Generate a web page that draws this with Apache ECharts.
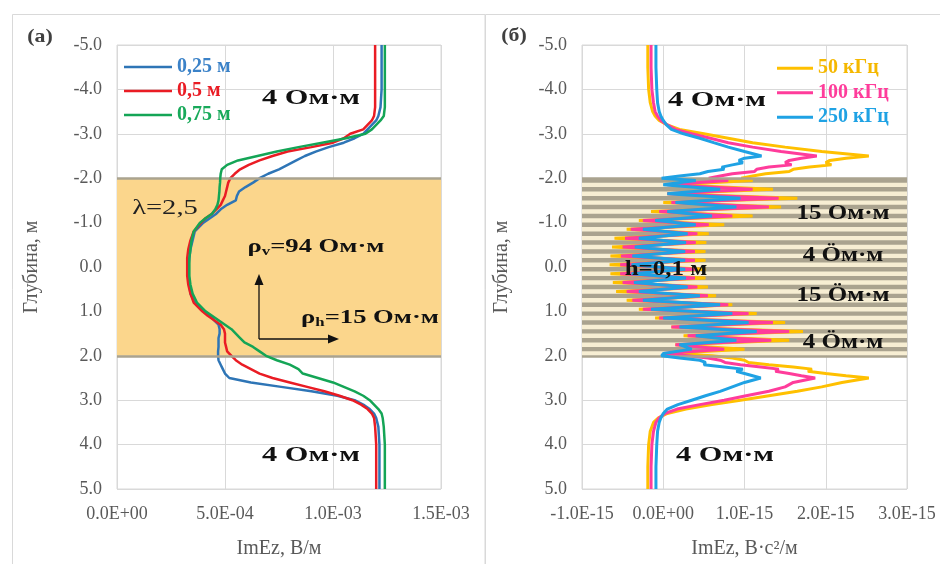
<!DOCTYPE html>
<html>
<head>
<meta charset="utf-8">
<script src="https://cdn.jsdelivr.net/npm/echarts@6/dist/echarts.min.js"></script>
<style>
  html, body { margin: 0; padding: 0; background: #ffffff; }
  #chart { width: 940px; height: 564px; }
</style>
</head>
<body>
<div id="chart"></div>
<script>
// ---------- tick labels ----------
const depthTicks = ['-5.0', '-4.0', '-3.0', '-2.0', '-1.0', '0.0', '1.0', '2.0', '3.0', '4.0', '5.0'];
const leftXTicks = ['0.0E+00', '5.0E-04', '1.0E-03', '1.5E-03'];      // values stored in 1e-3 V/m
const rightXTicks = ['-1.0E-15', '0.0E+00', '1.0E-15', '2.0E-15', '3.0E-15']; // values stored in 1e-15 V·s²/m

// ---------- panel (а): three probe spacings, ImEz in 1e-3 V/m ----------
const leftNames = ['0,25 м', '0,5 м', '0,75 м'];
const leftDepth = [-5.0, -4.0, -3.6, -3.4, -3.3, -3.2, -3.1, -3.0, -2.9, -2.8, -2.7, -2.6, -2.5, -2.4, -2.3, -2.2, -2.1,
  -2.0, -1.9, -1.8, -1.7, -1.6, -1.5, -1.4, -1.3, -1.2, -1.1, -1.0, -0.8, -0.6, -0.4, -0.2, 0.0, 0.2, 0.4, 0.6, 0.8,
  1.0, 1.1, 1.2, 1.3, 1.4, 1.5, 1.6, 1.7, 1.8, 1.9, 2.0, 2.1, 2.2, 2.3, 2.4, 2.5, 2.6, 2.7, 2.8, 2.9, 3.0, 3.1, 3.2,
  3.3, 3.4, 3.6, 4.0, 5.0];
const leftSpacing025 = [1.225, 1.225, 1.22, 1.21, 1.2, 1.18, 1.16, 1.14, 1.1, 1.05, 0.98, 0.92, 0.87, 0.83, 0.79, 0.75, 0.70,
  0.66, 0.63, 0.595, 0.565, 0.555, 0.55, 0.51, 0.48, 0.46, 0.43, 0.40, 0.36, 0.35, 0.34, 0.335, 0.33, 0.33, 0.335, 0.34, 0.36,
  0.40, 0.43, 0.45, 0.47, 0.475, 0.475, 0.47, 0.47, 0.47, 0.468, 0.468, 0.47, 0.48, 0.49, 0.50, 0.52, 0.62, 0.76, 0.90, 1.02, 1.10, 1.14, 1.17,
  1.19, 1.20, 1.21, 1.215, 1.215];
const leftSpacing05 = [1.195, 1.195, 1.195, 1.19, 1.18, 1.16, 1.14, 1.08, 1.05, 1.0, 0.90, 0.79, 0.72, 0.66, 0.61, 0.57, 0.545,
  0.525, 0.515, 0.51, 0.505, 0.50, 0.49, 0.48, 0.46, 0.44, 0.41, 0.39, 0.355, 0.34, 0.33, 0.325, 0.325, 0.325, 0.33, 0.34, 0.355,
  0.395, 0.42, 0.45, 0.48, 0.495, 0.50, 0.50, 0.50, 0.505, 0.51, 0.53, 0.55, 0.58, 0.62, 0.66, 0.72, 0.80, 0.88, 0.96, 1.03, 1.09, 1.13, 1.16,
  1.18, 1.19, 1.195, 1.20, 1.20];
const leftSpacing075 = [1.24, 1.24, 1.24, 1.235, 1.22, 1.20, 1.18, 1.15, 1.06, 0.95, 0.84, 0.74, 0.65, 0.56, 0.51, 0.485, 0.48,
  0.478, 0.477, 0.475, 0.474, 0.472, 0.47, 0.465, 0.455, 0.44, 0.41, 0.385, 0.355, 0.345, 0.34, 0.335, 0.335, 0.335, 0.34, 0.35, 0.37,
  0.41, 0.44, 0.47, 0.50, 0.53, 0.55, 0.57, 0.59, 0.63, 0.66, 0.69, 0.74, 0.80, 0.84, 0.86, 0.93, 1.00, 1.05, 1.10, 1.14, 1.17, 1.19, 1.21,
  1.225, 1.23, 1.235, 1.24, 1.24];

// ---------- panel (б): three frequencies, ImEz in 1e-15 V·s²/m ----------
const rightNames = ['50 кГц', '100 кГц', '250 кГц'];
const rightDepth = [-5.0, -4.5, -4.0, -3.7, -3.5, -3.4, -3.3, -3.2, -3.1, -3.0, -2.9, -2.8, -2.7, -2.6, -2.5, -2.45, -2.4,
  -2.35, -2.3, -2.25, -2.2, -2.15, -2.1, -2.05, -2.0,
  -1.95, -1.85, -1.75, -1.65, -1.55, -1.45, -1.35, -1.25, -1.15, -1.05, -0.95, -0.85, -0.75, -0.65, -0.55, -0.45, -0.35,
  -0.25, -0.15, -0.05, 0.05, 0.15, 0.25, 0.35, 0.45, 0.55, 0.65, 0.75, 0.85, 0.95, 1.05, 1.15, 1.25, 1.35, 1.45, 1.55,
  1.65, 1.75, 1.85, 1.95,
  2.0, 2.05, 2.1, 2.15, 2.2, 2.25, 2.3, 2.35, 2.4, 2.45, 2.5, 2.6, 2.7, 2.8, 2.9, 3.0, 3.1, 3.2, 3.3, 3.4, 3.5, 3.7, 4.0,
  4.5, 5.0];
const rightF50 = [-0.19, -0.19, -0.18, -0.16, -0.13, -0.10, -0.05, 0.05, 0.20, 0.50, 0.80, 1.10, 1.50, 1.95, 2.53, 2.25, 2.05,
  2.00, 2.07, 1.80, 1.60, 1.55, 1.26, 1.10, 0.96,
  1.10, 0.10, 1.35, 0.05, 1.65, 0.00, 1.45, -0.15, 1.10, -0.30, 0.75, -0.45, 0.56, -0.60, 0.53, -0.63, 0.52,
  -0.65, 0.52, -0.66, 0.52, -0.65, 0.52, -0.62, 0.55, -0.58, 0.65, -0.45, 0.85, -0.30, 1.15, -0.10, 1.50, 0.10, 1.72, 0.25,
  1.55, 0.15, 1.00, 0.05,
  0.60, 0.85, 1.00, 1.05, 1.30, 1.60, 1.83, 1.78, 2.00, 2.25, 2.53, 2.20, 1.95, 1.65, 1.30, 0.95, 0.60, 0.28, 0.05, -0.06, -0.12, -0.16, -0.18,
  -0.19, -0.19];
const rightF100 = [-0.15, -0.15, -0.14, -0.12, -0.10, -0.07, -0.03, 0.05, 0.15, 0.35, 0.58, 0.80, 1.10, 1.45, 1.89, 1.70, 1.55,
  1.50, 1.58, 1.30, 1.15, 1.12, 0.85, 0.70, 0.56,
  0.80, 0.05, 1.10, 0.05, 1.42, 0.10, 1.30, -0.05, 0.85, -0.25, 0.56, -0.40, 0.42, -0.47, 0.40, -0.50, 0.39,
  -0.52, 0.39, -0.53, 0.39, -0.53, 0.39, -0.50, 0.42, -0.45, 0.55, -0.38, 0.80, -0.25, 1.05, -0.05, 1.35, 0.10, 1.55, 0.30,
  1.33, 0.15, 0.75, 0.00,
  0.30, 0.55, 0.70, 0.76, 0.95, 1.20, 1.42, 1.38, 1.55, 1.70, 1.87, 1.60, 1.50, 1.30, 1.02, 0.75, 0.45, 0.17, 0.02, -0.05, -0.09, -0.12, -0.14,
  -0.15, -0.15];
const rightF250 = [-0.09, -0.09, -0.08, -0.07, -0.05, -0.03, 0.00, 0.04, 0.10, 0.25, 0.45, 0.62, 0.80, 1.00, 1.21, 1.00, 0.93,
  0.98, 0.85, 0.72, 0.75, 0.55, 0.45, 0.20, -0.02,
  0.40, 0.00, 0.70, 0.05, 0.95, 0.15, 0.90, 0.05, 0.60, -0.10, 0.40, -0.25, 0.30, -0.30, 0.28, -0.35, 0.27,
  -0.38, 0.27, -0.39, 0.27, -0.39, 0.28, -0.36, 0.30, -0.30, 0.45, -0.25, 0.70, -0.15, 0.85, 0.00, 1.05, 0.20, 1.15, 0.40,
  0.90, 0.20, 0.35, 0.00,
  -0.02, 0.20, 0.45, 0.52, 0.50, 0.75, 0.98, 0.90, 1.00, 1.10, 1.20, 1.00, 0.85, 0.70, 0.52, 0.35, 0.18, 0.05, 0.00, -0.03, -0.05, -0.07, -0.08,
  -0.09, -0.09];

// ---------- model geometry ----------
const anisoLayer = [-2.0, 2.0];               // anisotropic layer, panel (а)
const thinLayerTops = [-2.0, -1.8, -1.6, -1.4, -1.2, -1.0, -0.8, -0.6, -0.4, -0.2,
  0.0, 0.2, 0.4, 0.6, 0.8, 1.0, 1.2, 1.4, 1.6, 1.8]; // tops of the 0.1 m thin layers, panel (б)
const thinLayerH = 0.1;

// ---------- styling ----------
const SERIF = '"Liberation Serif", "Times New Roman", serif';
const AXIS_GREY = '#595959';
const GRID_GREY = '#d9d9d9';
const leftColors = ['#2e75b6', '#ea1c24', '#14a556'];
const leftTextColors = ['#3b82c8', '#ea1c24', '#18a95a'];
const rightColors = ['#ffc000', '#ff3c9b', '#1fa2e4'];
const rightTextColors = ['#f5b800', '#ff3c9b', '#1fa2e4'];

function pairs(xs, ys) { return xs.map((x, i) => [x, ys[i]]); }

function yAxisFor(gridIndex, nameGap) {
  return {
    type: 'value', gridIndex, min: -5, max: 5, interval: 1, inverse: true,
    name: 'Глубина, м', nameLocation: 'middle', nameGap,
    nameTextStyle: { fontFamily: SERIF, fontSize: 20, color: AXIS_GREY },
    axisLine: { show: false }, axisTick: { show: false },
    axisLabel: { fontFamily: SERIF, fontSize: 18, color: AXIS_GREY, margin: 15,
      formatter: v => depthTicks[Math.round(v + 5)] },
    splitLine: { show: true, lineStyle: { color: GRID_GREY, width: 1 } }
  };
}

const chart = echarts.init(document.getElementById('chart'), null, { renderer: 'canvas' });

const leftSeries = leftNames.map((name, i) => ({
  name, type: 'line', xAxisIndex: 0, yAxisIndex: 0, symbol: 'none', z: 3 + i,
  lineStyle: { color: leftColors[i], width: 2.5 }, itemStyle: { color: leftColors[i] },
  data: pairs([leftSpacing025, leftSpacing05, leftSpacing075][i], leftDepth)
}));

const rightSeries = rightNames.map((name, i) => ({
  name, type: 'line', xAxisIndex: 1, yAxisIndex: 1, symbol: 'none', z: 3 + i,
  lineStyle: { color: rightColors[i], width: 3 }, itemStyle: { color: rightColors[i] },
  data: pairs([rightF50, rightF100, rightF250][i], rightDepth)
}));

const boundaryLines = {
  silent: true, symbol: 'none', label: { show: false },
  lineStyle: { color: '#aaa38f', width: 2.5, type: 'solid' },
  data: [{ yAxis: -2 }, { yAxis: 2 }]
};

// background layers drawn under the curves
const layerSeries = [
  {
    name: 'layer-a', type: 'line', xAxisIndex: 0, yAxisIndex: 0, data: [], z: 1, silent: true,
    markArea: { silent: true, itemStyle: { color: '#fbd68c' },
      data: [[{ yAxis: anisoLayer[0] }, { yAxis: anisoLayer[1] }]] },
    markLine: boundaryLines
  },
  {
    name: 'layer-b', type: 'line', xAxisIndex: 1, yAxisIndex: 1, data: [], z: 1, silent: true,
    markArea: { silent: true,
      data: [[{ yAxis: anisoLayer[0], itemStyle: { color: '#f7eed3' } }, { yAxis: anisoLayer[1] }]]
        .concat(thinLayerTops.map(t => [{ yAxis: t, itemStyle: { color: '#aaa38f' } }, { yAxis: t + thinLayerH }])) },
    markLine: boundaryLines
  }
];

function label(text, x, y, size, opts) {
  opts = opts || {};
  return {
    type: 'text', x, y, scaleX: opts.scaleX || 1.3, z: 100, silent: true,
    style: {
      text, x: 0, y: 0, fill: opts.color || '#111111',
      font: (opts.weight || 'bold') + ' ' + size + 'px ' + SERIF,
      align: 'center', verticalAlign: 'middle', textAlign: 'center', textVerticalAlign: 'middle'
    }
  };
}

function rhoLabel(sub, rest, x, y) {
  const base = { fontFamily: SERIF, fontWeight: 'bold', fontSize: 19, fill: '#111111', lineHeight: 22 };
  return {
    type: 'text', x, y, scaleX: 1.4, z: 100, silent: true,
    style: {
      text: '{r|ρ}{s|' + sub + '}{r|' + rest + '}', x: 0, y: 0,
      align: 'center', verticalAlign: 'middle', textAlign: 'center', textVerticalAlign: 'middle',
      rich: { r: base, s: Object.assign({}, base, { fontSize: 12, padding: [9, 0, 0, 0] }) }
    }
  };
}

const graphics = [
  // panel frames
  { type: 'rect', z: 0, silent: true, shape: { x: 12.5, y: 14.5, width: 472.5, height: 600 },
    style: { fill: null, stroke: GRID_GREY, lineWidth: 1 } },
  { type: 'rect', z: 0, silent: true, shape: { x: 485.5, y: 14.5, width: 500, height: 600 },
    style: { fill: null, stroke: GRID_GREY, lineWidth: 1 } },
  // panel tags
  label('(а)', 40, 37, 19, { scaleX: 1.15, color: '#404040' }),
  label('(б)', 514, 36, 19, { scaleX: 1.15, color: '#404040' }),
  // panel (а) annotations
  label('4 Ом·м', 311, 98, 22, { scaleX: 1.38 }),
  label('4 Ом·м', 311, 455, 22, { scaleX: 1.38 }),
  label('λ=2,5', 165, 208, 22, { weight: 'normal', scaleX: 1.3, color: '#222222' }),
  rhoLabel('v', '=94 Ом·м', 316, 247),
  rhoLabel('h', '=15 Ом·м', 370, 318),
  { type: 'line', z: 100, silent: true, shape: { x1: 259, y1: 339, x2: 259, y2: 283 },
    style: { stroke: '#111111', lineWidth: 1.3 } },
  { type: 'polygon', z: 100, silent: true, shape: { points: [[259, 274], [254.5, 285], [263.5, 285]] },
    style: { fill: '#111111' } },
  { type: 'line', z: 100, silent: true, shape: { x1: 259, y1: 339, x2: 330, y2: 339 },
    style: { stroke: '#111111', lineWidth: 1.3 } },
  { type: 'polygon', z: 100, silent: true, shape: { points: [[339, 339], [328, 334.5], [328, 343.5]] },
    style: { fill: '#111111' } },
  // panel (б) annotations
  label('4 Ом·м', 717, 100, 22, { scaleX: 1.38 }),
  label('4 Ом·м', 725, 455, 22, { scaleX: 1.38 }),
  label('15 Ом·м', 843, 214, 20, { scaleX: 1.25 }),
  label('4 Ӧм·м', 843, 256, 20, { scaleX: 1.25 }),
  label('15 Ӧм·м', 843, 296, 20, { scaleX: 1.25 }),
  label('4 Ӧм·м', 843, 343, 20, { scaleX: 1.25 }),
  label('h=0,1 м', 666, 270, 20, { scaleX: 1.25 })
];

const option = {
  animation: false,
  backgroundColor: '#ffffff',
  grid: [
    { left: 117, right: 940 - 441, top: 45, bottom: 564 - 499, show: true, borderColor: GRID_GREY, borderWidth: 1 },
    { left: 582, right: 940 - 907, top: 45, bottom: 564 - 499, show: true, borderColor: GRID_GREY, borderWidth: 1 }
  ],
  xAxis: [
    {
      type: 'value', gridIndex: 0, min: 0, max: 1.5, interval: 0.5,
      name: 'ImEz, В/м', nameLocation: 'middle', nameGap: 50,
      nameTextStyle: { fontFamily: SERIF, fontSize: 20, color: AXIS_GREY },
      axisLine: { show: false }, axisTick: { show: false },
      axisLabel: { fontFamily: SERIF, fontSize: 18, color: AXIS_GREY, margin: 16,
        formatter: v => leftXTicks[Math.round(v / 0.5)] },
      splitLine: { show: true, lineStyle: { color: GRID_GREY, width: 1 } }
    },
    {
      type: 'value', gridIndex: 1, min: -1, max: 3, interval: 1,
      name: 'ImEz, В·с²/м', nameLocation: 'middle', nameGap: 50,
      nameTextStyle: { fontFamily: SERIF, fontSize: 20, color: AXIS_GREY },
      axisLine: { show: false }, axisTick: { show: false },
      axisLabel: { fontFamily: SERIF, fontSize: 18, color: AXIS_GREY, margin: 16,
        formatter: v => rightXTicks[Math.round(v + 1)] },
      splitLine: { show: true, lineStyle: { color: GRID_GREY, width: 1 } }
    }
  ],
  yAxis: [yAxisFor(0, 75), yAxisFor(1, 70)],
  legend: [
    {
      data: leftNames.map((n, i) => ({ name: n, textStyle: { color: leftTextColors[i] } })),
      orient: 'vertical', left: 124, top: 55, padding: 0, itemGap: 0,
      icon: 'rect', itemWidth: 48, itemHeight: 2.5, selectedMode: false,
      textStyle: { fontFamily: SERIF, fontWeight: 'bold', fontSize: 20, lineHeight: 24 }
    },
    {
      data: rightNames.map((n, i) => ({ name: n, textStyle: { color: rightTextColors[i] } })),
      orient: 'vertical', left: 777, top: 56, padding: 0, itemGap: 0,
      icon: 'rect', itemWidth: 36, itemHeight: 3, selectedMode: false,
      textStyle: { fontFamily: SERIF, fontWeight: 'bold', fontSize: 20, lineHeight: 24.5 }
    }
  ],
  series: layerSeries.concat(leftSeries, rightSeries),
  graphic: graphics
};

chart.setOption(option);
</script>
</body>
</html>
